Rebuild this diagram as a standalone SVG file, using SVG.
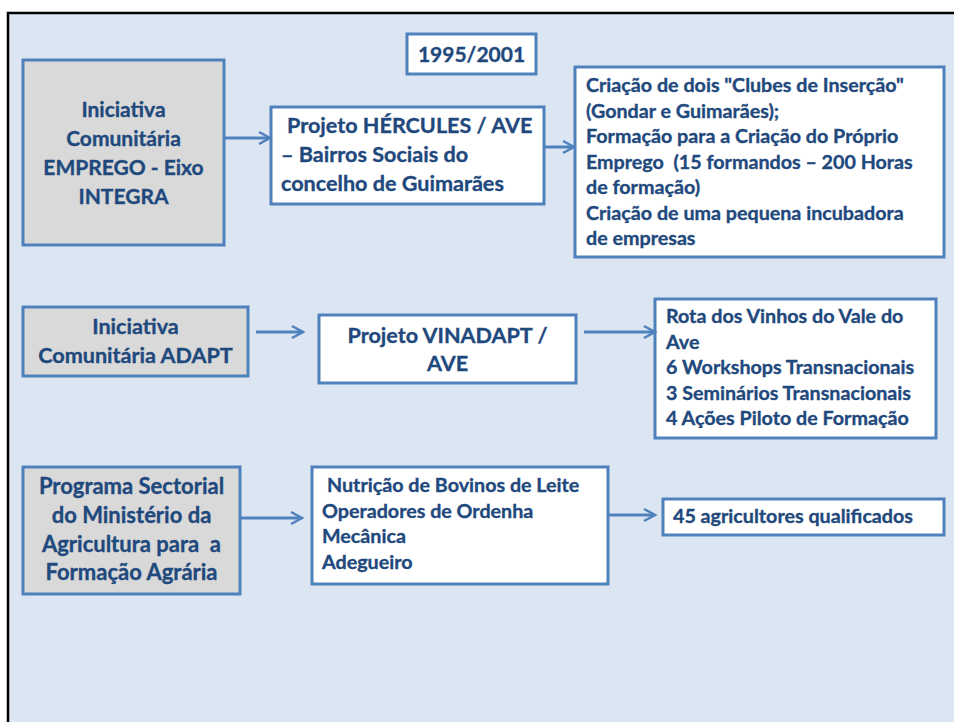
<svg xmlns="http://www.w3.org/2000/svg" width="954" height="722" viewBox="0 0 954 722">
<defs>
<style>
.frame{fill:#dce6f2;stroke:#000;stroke-width:2.5}
.box{stroke:#4f81bd;stroke-width:3}
.g{fill:#d9d9d9}
.w{fill:#fff}
text{font-family:Lato,"Liberation Sans",sans-serif;font-weight:700;fill:#1f497d;stroke:#1f497d;stroke-width:0.35;font-size:19.7px}
.c{text-anchor:middle}
.b21{font-size:21px}
.b22{font-size:21.6px}
.b22x{font-size:22px}
.con{stroke:#4f81bd;stroke-width:3;fill:none}
</style>
<marker id="ah" markerWidth="16" markerHeight="16" refX="13" refY="8" orient="auto" markerUnits="userSpaceOnUse">
<path d="M2,2 L13,8 L2,14" fill="none" stroke="#4f81bd" stroke-width="2.5"/>
</marker>
</defs>
<rect x="0" y="0" width="954" height="722" fill="#fff"/>
<rect class="frame" x="8" y="13" width="960" height="720"/>

<g id="n-year">
<rect class="box w" x="407" y="34" width="129" height="40"/>
<text class="c b21" x="471.5" y="62">1995/2001</text>
</g>

<g id="n-emprego">
<rect class="box g" x="23" y="60" width="201" height="185"/>
<text class="c b21" x="123.5" y="117">Iniciativa</text>
<text class="c b21" x="123.5" y="146">Comunitária</text>
<text class="c b21" x="123.5" y="175">EMPREGO - Eixo</text>
<text class="c b21" x="123.5" y="204">INTEGRA</text>
</g>

<g id="n-hercules">
<rect class="box w" x="271" y="107" width="273" height="97"/>
<text class="b22" x="287" y="133">Projeto HÉRCULES / AVE</text>
<text class="b22" x="281" y="162">– Bairros Sociais do</text>
<text class="b22" x="281" y="191">concelho de Guimarães</text>
</g>

<g id="n-res1">
<rect class="box w" x="575" y="67" width="369" height="190"/>
<text x="586" y="92">Criação de dois "Clubes de Inserção"</text>
<text x="586" y="117.5">(Gondar e Guimarães);</text>
<text x="586" y="143">Formação para a Criação do Próprio</text>
<text x="586" y="168.5" xml:space="preserve">Emprego  (15 formandos – 200 Horas</text>
<text x="586" y="194">de formação)</text>
<text x="586" y="219.5">Criação de uma pequena incubadora</text>
<text x="586" y="245">de empresas</text>
</g>

<g id="n-adapt">
<rect class="box g" x="23" y="307" width="225" height="69"/>
<text class="c b22" x="135.5" y="334">Iniciativa</text>
<text class="c b22" x="135.5" y="363">Comunitária ADAPT</text>
</g>

<g id="n-vinadapt">
<rect class="box w" x="319" y="315" width="257" height="68"/>
<text class="c b22" x="447.5" y="343">Projeto VINADAPT /</text>
<text class="c b22" x="447.5" y="371">AVE</text>
</g>

<g id="n-res2">
<rect class="box w" x="655" y="299" width="281" height="139"/>
<text x="666" y="323">Rota dos Vinhos do Vale do</text>
<text x="666" y="348.5">Ave</text>
<text x="666" y="374">6 Workshops Transnacionais</text>
<text x="666" y="399.5">3 Seminários Transnacionais</text>
<text x="666" y="425">4 Ações Piloto de Formação</text>
</g>

<g id="n-programa">
<rect class="box g" x="23" y="467" width="217" height="127"/>
<text class="c b22x" x="131.5" y="494">Programa Sectorial</text>
<text class="c b22x" x="131.5" y="523">do Ministério da</text>
<text class="c b22x" x="131.5" y="552" xml:space="preserve">Agricultura para  a</text>
<text class="c b22x" x="131.5" y="580">Formação Agrária</text>
</g>

<g id="n-cursos">
<rect class="box w" x="312" y="467" width="296" height="117"/>
<text x="327" y="492">Nutrição de Bovinos de Leite</text>
<text x="322" y="517.5">Operadores de Ordenha</text>
<text x="322" y="543">Mecânica</text>
<text x="322" y="568.5">Adegueiro</text>
</g>

<g id="n-res3">
<rect class="box w" x="663" y="499" width="281" height="36"/>
<text x="673" y="523">45 agricultores qualificados</text>
</g>

<g id="connectors">
<line class="con" x1="224" y1="138" x2="270" y2="138" marker-end="url(#ah)"/>
<line class="con" x1="544" y1="147" x2="574" y2="147" marker-end="url(#ah)"/>
<line class="con" x1="256" y1="332" x2="303" y2="332" marker-end="url(#ah)"/>
<line class="con" x1="584" y1="332" x2="655" y2="332" marker-end="url(#ah)"/>
<line class="con" x1="240" y1="518" x2="302" y2="518" marker-end="url(#ah)"/>
<line class="con" x1="608" y1="515" x2="655" y2="515" marker-end="url(#ah)"/>
</g>
</svg>
